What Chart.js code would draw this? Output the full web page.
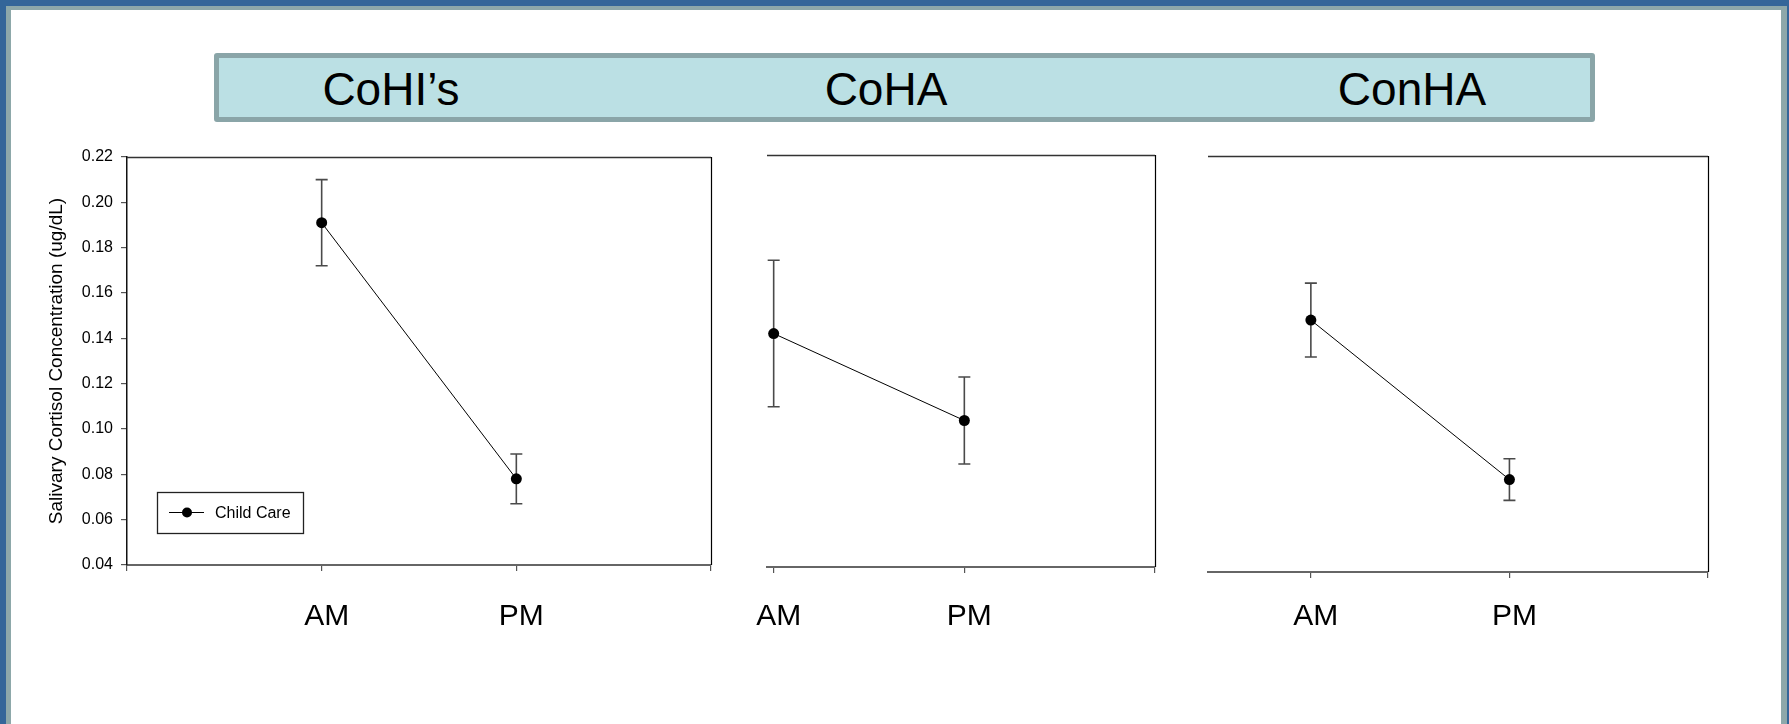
<!DOCTYPE html>
<html>
<head>
<meta charset="utf-8">
<title>Salivary Cortisol Concentration</title>
<script src="https://cdn.jsdelivr.net/npm/chart.js@4.4.1/dist/chart.umd.min.js"></script>
<style>
  html, body { margin: 0; padding: 0; background: #fff; }
  body { width: 1789px; height: 724px; overflow: hidden; position: relative;
         font-family: "Liberation Sans", Arial, sans-serif; }
  .frame-outer { position: absolute; left: 0; top: 0; width: 1789px; height: 760px; background: #346699; }
  .frame-mid { position: absolute; left: 6px; top: 6px; width: 1781px; height: 760px; background: #8da8aa; }
  .frame-inner { position: absolute; left: 11px; top: 10px; width: 1770px; height: 760px; background: #fff; }
  .banner { position: absolute; left: 214px; top: 53px; width: 1371px; height: 59px;
            border: 5px solid #8aa5a8; border-radius: 3px; background: #bbe0e4; }
  .banner-text { position: absolute; top: 66px; height: 46px; line-height: 46px; font-size: 46px;
                 color: #000; white-space: nowrap; transform: translateX(-50%); }
  canvas { position: absolute; }
</style>
</head>
<body>
<div class="frame-outer"></div>
<div class="frame-mid"></div>
<div class="frame-inner"></div>
<div class="banner"></div>
<div id="titles"></div>

<canvas id="p1" width="740" height="530" style="left:0px; top:130px;"></canvas>
<canvas id="p2" width="440" height="530" style="left:740px; top:130px;"></canvas>
<canvas id="p3" width="560" height="530" style="left:1180px; top:130px;"></canvas>

<script>
// Time-of-day categories (x positions 1 and 2 on each panel)
const categories = ['AM', 'PM'];
const panelTitles = ['CoHI\u2019s', 'CoHA', 'ConHA'];
const seriesLabel = 'Child Care';
const yTitle = 'Salivary Cortisol Concentration (ug/dL)';

// Mean salivary cortisol (ug/dL) and standard error for each group
const cohisMean = [0.191, 0.078];
const cohisSem  = [0.019, 0.011];
const cohaMean  = [0.142, 0.104];
const cohaSem   = [0.032, 0.019];
const conhaMean = [0.149, 0.080];
const conhaSem  = [0.016, 0.009];

// Value axis
const yMin = 0.04, yMax = 0.22, yStep = 0.02;

const FONT = '"Liberation Sans", Arial, sans-serif';
Chart.defaults.font.family = FONT;
Chart.defaults.color = '#000';

// Group headings inside the banner
const titleCenters = [391, 886, 1412];
const titlesEl = document.getElementById('titles');
panelTitles.forEach((t, i) => {
  const d = document.createElement('div');
  d.className = 'banner-text';
  d.style.left = titleCenters[i] + 'px';
  d.textContent = t;
  titlesEl.appendChild(d);
});

// Vertical standard-error bars with caps, drawn under the markers
const errorBars = {
  id: 'errorBars',
  beforeDatasetsDraw(chart) {
    const {ctx, scales: {x, y}} = chart;
    ctx.save();
    ctx.strokeStyle = '#4a4a4a';
    ctx.lineWidth = 1.6;
    chart.data.datasets.forEach(ds => {
      (ds.data || []).forEach((p, i) => {
        const e = ds.sem[i];
        const px = x.getPixelForValue(p.x);
        const top = y.getPixelForValue(p.y + e);
        const bot = y.getPixelForValue(p.y - e);
        ctx.beginPath();
        ctx.moveTo(px, top); ctx.lineTo(px, bot);
        ctx.moveTo(px - 6, top); ctx.lineTo(px + 6, top);
        ctx.moveTo(px - 6, bot); ctx.lineTo(px + 6, bot);
        ctx.stroke();
      });
    });
    ctx.restore();
  }
};

// Top and right edges of the plotting frame
const frameEdges = {
  id: 'frameEdges',
  afterDraw(chart) {
    const {ctx, chartArea: a} = chart;
    ctx.save();
    ctx.strokeStyle = '#333';
    ctx.lineWidth = 1.4;
    ctx.beginPath();
    ctx.moveTo(a.left, a.top + 0.5); ctx.lineTo(a.right, a.top + 0.5);
    ctx.stroke();
    ctx.strokeStyle = '#000';
    ctx.lineWidth = 1.2;
    ctx.beginPath();
    ctx.moveTo(a.right + 0.5, a.top); ctx.lineTo(a.right + 0.5, a.bottom);
    ctx.stroke();
    ctx.restore();
  }
};

// Boxed legend in the lower-left corner of the plotting area
const boxLegend = {
  id: 'boxLegend',
  afterDraw(chart, args, opts) {
    if (!opts || !opts.show) return;
    const {ctx, chartArea: a} = chart;
    const ds = chart.data.datasets[0];
    const bx = a.left + 30, bw = 146, bh = 41;
    const by = a.bottom - 32 - bh;
    const cy = by + bh / 2;
    ctx.save();
    ctx.strokeStyle = '#222';
    ctx.lineWidth = 1.3;
    ctx.strokeRect(bx + 0.5, by + 0.5, bw, bh);
    ctx.strokeStyle = '#000';
    ctx.lineWidth = 1;
    ctx.beginPath();
    ctx.moveTo(bx + 12, cy); ctx.lineTo(bx + 47, cy);
    ctx.stroke();
    ctx.fillStyle = '#000';
    ctx.beginPath();
    ctx.arc(bx + 30, cy, 5, 0, Math.PI * 2);
    ctx.fill();
    ctx.font = '16px ' + FONT;
    ctx.textBaseline = 'middle';
    ctx.textAlign = 'left';
    ctx.fillText(ds.label, bx + 58, cy + 1);
    ctx.restore();
  }
};

function makePanel(id, means, sems, cfg) {
  const points = categories.map((c, i) => ({x: i + 1, y: means[i]}));
  return new Chart(document.getElementById(id), {
    type: 'line',
    data: {
      datasets: [{
        label: seriesLabel,
        data: points,
        sem: sems,
        borderColor: '#000',
        borderWidth: 1,
        pointRadius: 5.5,
        pointBackgroundColor: '#000',
        pointBorderWidth: 0,
        tension: 0,
        fill: false
      }]
    },
    options: {
      responsive: false,
      animation: false,
      devicePixelRatio: 1,
      events: [],
      layout: { padding: cfg.padding },
      plugins: {
        legend: { display: false },
        tooltip: { enabled: false },
        boxLegend: { show: !!cfg.legend }
      },
      scales: {
        x: {
          type: 'linear',
          min: cfg.xMin,
          max: 3,
          afterFit(s) {
            s.height = cfg.xHeight;
            s.paddingLeft = 0;
            s.paddingRight = 0;
          },
          border: { display: true, color: '#666', width: 2 },
          grid: { drawOnChartArea: false, drawTicks: true, tickLength: 6, color: '#555', lineWidth: 1.2 },
          ticks: {
            stepSize: 1,
            includeBounds: false,
            autoSkip: false,
            maxRotation: 0,
            padding: cfg.labelPad,
            labelOffset: 5,
            color: '#000',
            font: { size: 30, family: FONT },
            callback: v => (Number.isInteger(v) && v >= 1 && v <= categories.length) ? categories[v - 1] : ''
          }
        },
        y: {
          type: 'linear',
          min: yMin,
          max: yMax,
          display: !!cfg.yAxis,
          afterFit(s) {
            if (cfg.yAxis) s.width = cfg.yWidth;
            s.paddingTop = 0;
            s.paddingBottom = 0;
          },
          border: { display: true, color: '#111', width: 1.5 },
          grid: { drawOnChartArea: false, drawTicks: true, tickLength: 6, color: '#555', lineWidth: 1.2 },
          title: {
            display: !!cfg.yAxis,
            text: yTitle,
            color: '#000',
            font: { size: 19, family: FONT },
            padding: { top: 45.6, bottom: 0 }
          },
          ticks: {
            stepSize: yStep,
            padding: 8,
            color: '#000',
            font: { size: 16, family: FONT },
            callback: v => v.toFixed(2)
          }
        }
      }
    },
    plugins: [errorBars, frameEdges, boxLegend]
  });
}

makePanel('p1', cohisMean, cohisSem, {
  padding: { left: 0, top: 27, right: 29, bottom: 0 },
  xMin: 0, xHeight: 95, labelPad: 28, yAxis: true, yWidth: 127, legend: true
});
makePanel('p2', cohaMean, cohaSem, {
  padding: { left: 27, top: 25, right: 25, bottom: 0 },
  xMin: 0.965, xHeight: 93, labelPad: 26, yAxis: false
});
makePanel('p3', conhaMean, conhaSem, {
  padding: { left: 28, top: 26, right: 32, bottom: 0 },
  xMin: 0.482, xHeight: 88, labelPad: 21, yAxis: false
});
</script>
</body>
</html>
